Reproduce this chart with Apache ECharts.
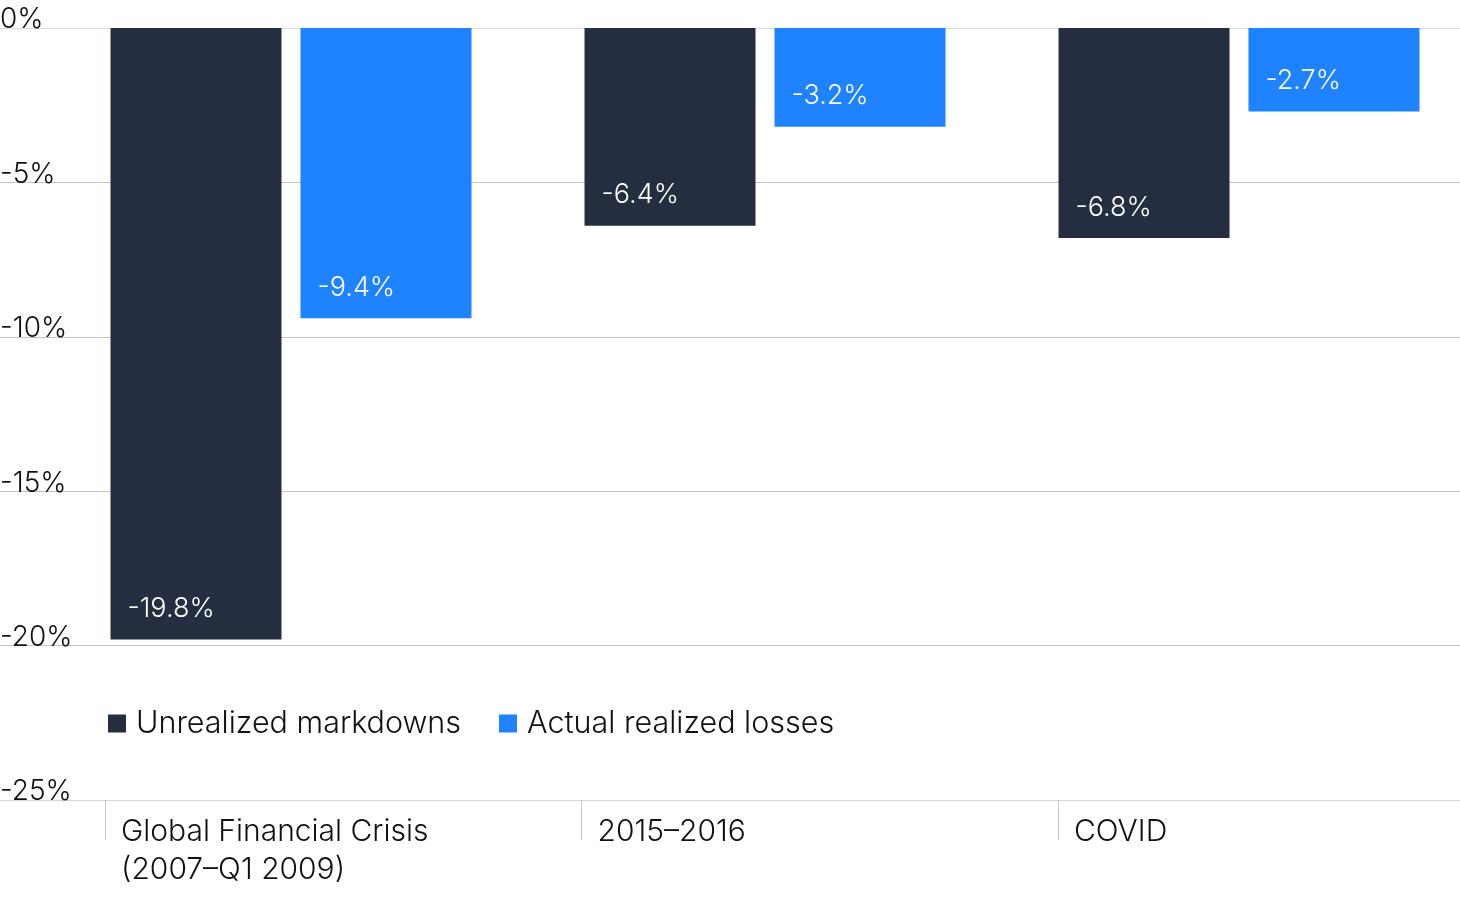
<!DOCTYPE html>
<html><head><meta charset="utf-8">
<script src="https://cdn.jsdelivr.net/npm/echarts@6/dist/echarts.min.js"></script>
<style>html,body{margin:0;padding:0;background:#fff}#c{width:1460px;height:901px}</style>
</head><body><div id="c"></div>
<script>
const categories = ['Global Financial Crisis\n(2007–Q1 2009)', '2015–2016', 'COVID'];
const unrealized = [-19.8, -6.4, -6.8];
const realized = [-9.4, -3.2, -2.7];
const seriesNames = ['Unrealized markdowns', 'Actual realized losses'];

const FONT = 'Inter, "Noto Sans", sans-serif';
const FW = 300;
const chart = echarts.init(document.getElementById('c'));
const labelCfg = {
  show: true, position: 'insideBottomLeft', distance: 17,
  color: '#fff', fontSize: 27, fontWeight: FW, fontFamily: FONT,
  formatter: p => p.value + '%'
};
chart.setOption({
  animation: false,
  textStyle: { fontFamily: FONT },
  grid: [
    { left: 54, width: 1422, top: 28, height: 772, outerBoundsMode: 'none', containLabel: false },
    { left: 0, right: 0, top: 28, height: 772, outerBoundsMode: 'none' },
    { left: 105, width: 953, top: 28, height: 772, outerBoundsMode: 'none' }
  ],
  legend: {
    data: seriesNames, left: 103, top: 703, icon: 'rect',
    itemWidth: 18, itemHeight: 18, itemGap: 38,
    textStyle: { fontSize: 30.5, fontWeight: FW, color: '#111', fontFamily: FONT, padding: [0, 0, 0, 5] }
  },
  xAxis: [
    { type: 'category', gridIndex: 0, data: categories, show: false },
    { type: 'category', gridIndex: 1, data: categories, show: false },
    { type: 'category', gridIndex: 2, data: categories, boundaryGap: false, position: 'bottom',
      axisLine: { show: false, onZero: false },
      axisTick: { show: true, length: 40, lineStyle: { color: '#c8c8c8' } },
      axisLabel: { align: 'left', verticalAlign: 'top', margin: 13, padding: [0, 0, 0, 16],
        fontSize: 30, fontWeight: FW, lineHeight: 38, color: '#111', fontFamily: FONT } }
  ],
  yAxis: [
    { type: 'value', gridIndex: 0, min: -25, max: 0, interval: 5, show: false },
    { type: 'value', gridIndex: 1, min: -25, max: 0, interval: 5,
      axisLine: { show: false }, axisTick: { show: false },
      splitLine: { lineStyle: { color: ['#d6d6d6', '#c4c4c4', '#c4c4c4', '#c4c4c4', '#c4c4c4', '#dcdcdc'] } },
      axisLabel: { inside: true, margin: 0, align: 'left', verticalAlign: 'bottom', padding: [0, 0, -6, 0],
        fontSize: 28, fontWeight: FW, color: '#111', fontFamily: FONT, formatter: v => v + '%' } },
    { type: 'value', gridIndex: 2, min: -25, max: 0, interval: 5, show: false }
  ],
  series: [
    { name: seriesNames[0], type: 'bar', xAxisIndex: 0, yAxisIndex: 0, data: unrealized,
      barWidth: 171, barGap: '11.1%', itemStyle: { color: '#252e40' }, label: labelCfg },
    { name: seriesNames[1], type: 'bar', xAxisIndex: 0, yAxisIndex: 0, data: realized,
      barWidth: 171, barGap: '11.1%', itemStyle: { color: '#1f82ff' }, label: labelCfg }
  ]
});
</script></body></html>
